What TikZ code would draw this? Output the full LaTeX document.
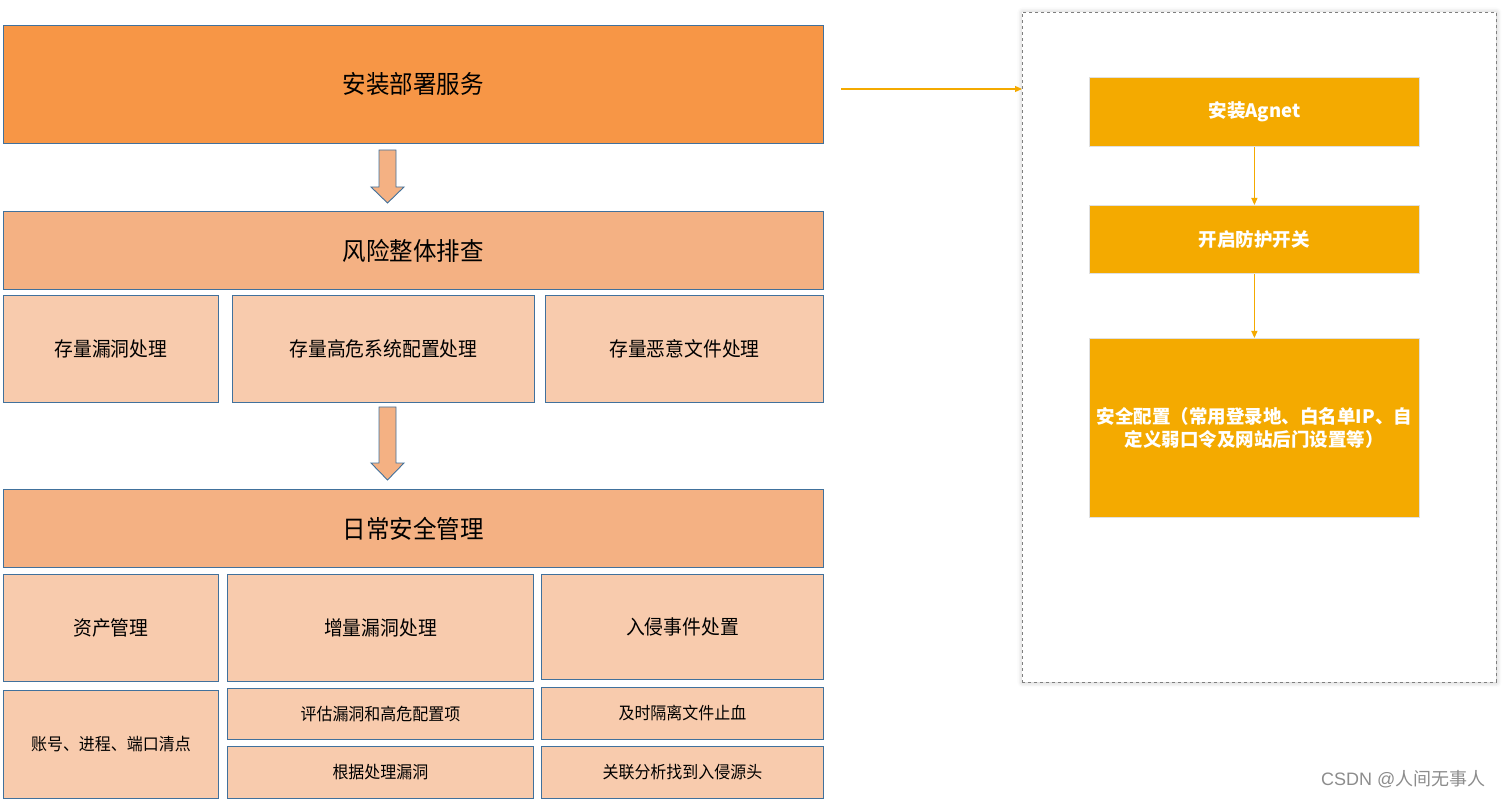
\documentclass[tikz,border=0pt]{standalone}
\usepackage{fontspec}
\setmainfont{Noto Sans CJK SC}
\newfontfamily\cjkc[FakeStretch=0.94]{Noto Sans CJK SC}
\newfontfamily\cjkr{Noto Sans CJK SC}
\usetikzlibrary{shadows.blur,arrows.meta,calc}
\definecolor{cA}{HTML}{F79646}
\definecolor{cB}{HTML}{F4B183}
\definecolor{cC}{HTML}{F8CBAD}
\definecolor{bord}{HTML}{41719C}
\definecolor{gold}{HTML}{F4AA00}
\definecolor{dgray}{HTML}{7F7F7F}
\tikzset{
  box/.style={draw=bord, line width=0.9pt, anchor=north west, inner sep=0pt, align=center},
  fbig/.style={font=\cjkc\fontsize{25}{29}\selectfont},
  fmid/.style={font=\cjkc\fontsize{20}{24}\selectfont},
  fsmall/.style={font=\cjkc\fontsize{17}{20}\selectfont},
  gbox/.style={draw=black!12, line width=0.8pt, fill=gold, anchor=north west, inner sep=0pt, align=center, text=white, font=\cjkr\bfseries\fontsize{18.5}{23}\selectfont},
  goldarrow/.style={draw=gold, line width=1.2pt, -{Triangle[length=7pt,width=6pt]}},
  blockarrow/.style={draw=bord, fill=cB, line width=0.9pt, line join=miter},
}
\begin{document}
\begin{tikzpicture}[x=1pt,y=-1pt]
\useasboundingbox (0,0) rectangle (1505,799);
% left column
\node[box, fill=cA, minimum width=820pt, minimum height=118pt, fbig] (top) at (3,25) {安装部署服务};
\node[box, fill=cB, minimum width=820pt, minimum height=78pt, fbig] (risk) at (3,211) {风险整体排查};
\node[box, fill=cC, minimum width=215pt, minimum height=107pt, fmid] (r1) at (3,295) {存量漏洞处理};
\node[box, fill=cC, minimum width=302pt, minimum height=107pt, fmid] (r2) at (232,295) {存量高危系统配置处理};
\node[box, fill=cC, minimum width=278pt, minimum height=107pt, fmid] (r3) at (545,295) {存量恶意文件处理};
\node[box, fill=cB, minimum width=820pt, minimum height=78pt, fbig] (daily) at (3,489) {日常安全管理};
\node[box, fill=cC, minimum width=215pt, minimum height=107pt, fmid] (d1) at (3,574) {资产管理};
\node[box, fill=cC, minimum width=306pt, minimum height=107pt, fmid] (d2) at (227,574) {增量漏洞处理};
\node[box, fill=cC, minimum width=282pt, minimum height=105pt, fmid] (d3) at (541,574) {入侵事件处置};
\node[box, fill=cC, minimum width=215pt, minimum height=108pt, fsmall] (e1) at (3,690) {账号、进程、端口清点};
\node[box, fill=cC, minimum width=306pt, minimum height=51pt, fsmall] (e2) at (227,688) {评估漏洞和高危配置项};
\node[box, fill=cC, minimum width=306pt, minimum height=52pt, fsmall] (e3) at (227,746) {根据处理漏洞};
\node[box, fill=cC, minimum width=282pt, minimum height=52pt, fsmall] (e4) at (541,687) {及时隔离文件止血};
\node[box, fill=cC, minimum width=282pt, minimum height=52pt, fsmall] (e5) at (541,746) {关联分析找到入侵源头};
% block arrows
\draw[blockarrow] (379,150) -- (396,150) -- (396,187) -- (404,187) -- (387.5,203) -- (371,187) -- (379,187) -- cycle;
\draw[blockarrow] (379,407) -- (396,407) -- (396,463) -- (404,463) -- (387.5,480) -- (371,463) -- (379,463) -- cycle;
% right panel
\node[draw=dgray, dashed, line width=0.8pt, fill=white, anchor=north west, inner sep=0pt,
      minimum width=474pt, minimum height=670pt,
      blur shadow={shadow xshift=0pt, shadow yshift=0pt, shadow blur radius=5pt, shadow opacity=25}] (frame) at (1022,12) {};
\node[gbox, minimum width=330pt, minimum height=69pt] (a1) at (1089,77) {安装Agnet};
\node[gbox, minimum width=330pt, minimum height=68pt] (a2) at (1089,205) {开启防护开关};
\node[gbox, minimum width=330pt, minimum height=179pt] (a3) at (1089,338) {安全配置（常用登录地、白名单IP、自\\定义弱口令及网站后门设置等）};
\draw[goldarrow] (a1.south) -- (a2.north);
\draw[goldarrow] (a2.south) -- (a3.north);
\coordinate (src) at (841,89);
\draw[goldarrow] (src) -- (src -| frame.west);
% watermark
\node[anchor=east, text=black!45, font=\fontspec{Liberation Sans}\fontsize{18}{21}\selectfont] (wm) at (1489,779) {CSDN @\cjkr 人间无事人};
\end{tikzpicture}
\end{document}
